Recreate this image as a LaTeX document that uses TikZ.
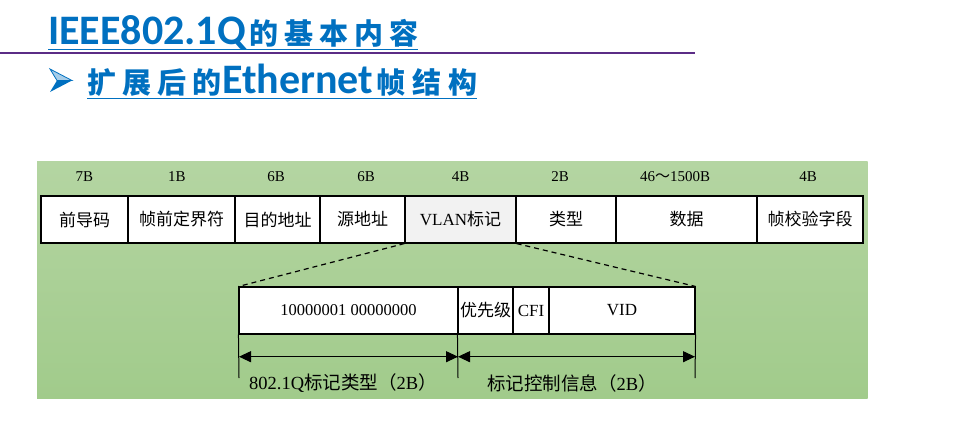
\documentclass[tikz,border=0pt]{standalone}
\usepackage{fontspec}
\setmainfont{Liberation Serif}
\newfontfamily\cjk{Noto Sans CJK SC}
\newfontfamily\carl{Carlito}
\usetikzlibrary{arrows.meta}
\definecolor{titleblue}{HTML}{0070C0}
\definecolor{rulepurple}{HTML}{5B2C86}
\definecolor{gtop}{HTML}{B4D5A2}
\definecolor{gbot}{HTML}{A1CB8B}
\definecolor{vlanfill}{HTML}{F2F2F2}
\newcommand{\boxfnt}{\fontsize{17}{20}\selectfont}
\newcommand{\lblfnt}{\fontsize{15}{18}\selectfont}
\newcommand{\botfnt}{\fontsize{18.5}{22}\selectfont}
\tikzset{
  fbox/.style={draw=black, line width=1.1pt, fill=white, inner sep=0pt,
    minimum height=47pt, font=\boxfnt, anchor=center},
  szlbl/.style={inner sep=0pt, font=\lblfnt, anchor=center},
  botlbl/.style={inner sep=0pt, font=\botfnt, anchor=center},
  ttl/.style={inner sep=0pt, anchor=base west, text=titleblue},
  uline/.style={draw=titleblue, line width=0.9pt},
  extline/.style={draw=black, line width=1pt},
  dimarrow/.style={draw=black, line width=1.1pt, {Triangle[length=12pt,width=11pt]}-{Triangle[length=12pt,width=11pt]}},
}
\begin{document}
\begin{tikzpicture}[x=1pt,y=-1pt]
\useasboundingbox (0,0) rectangle (955,444);

% title
\node[ttl] (t1) at (48,45) {{\carl\bfseries\fontsize{42}{48}\selectfont IEEE802.1Q}\hspace{3pt}{\cjk\bfseries\fontsize{29}{34}\selectfont 的\hspace{6pt}基\hspace{6pt}本\hspace{6pt}内\hspace{6pt}容}};
\draw[uline] ([yshift=-4pt]t1.base west) -- ([yshift=-4pt]t1.base east);
\coordinate (p1) at (0,52.7);
\coordinate (p2) at (695,52.7);
\draw[draw=rulepurple, line width=2.2pt] (p1) -- (p2);

% second line with arrow bullet
\fill[titleblue] (50,92) -- (72,80.5) -- (57,80.5) -- cycle;
\filldraw[fill=titleblue!35, draw=titleblue, line width=0.8pt] (50,69) -- (72,80.5) -- (57,80.5) -- cycle;
\node[ttl] (t2) at (87,93) {{\cjk\bfseries\fontsize{29}{34}\selectfont 扩\hspace{6pt}展\hspace{6pt}后\hspace{6pt}的}\hspace{1pt}{\carl\bfseries\fontsize{42}{48}\selectfont Ethernet}\hspace{3pt}{\cjk\bfseries\fontsize{29}{34}\selectfont 帧\hspace{7pt}结\hspace{7pt}构}};
\draw[uline] ([yshift=-5pt]t2.base west) -- ([yshift=-5pt]t2.base east);

% green background
\shade[top color=gtop, bottom color=gbot] (37,161.5) rectangle (867.5,398.5);

% frame row
\node[fbox, minimum width=87pt]  (b1) at (84.5,219.5) {{\cjk 前导码}};
\node[fbox, minimum width=107pt] (b2) at (181.5,219.5) {{\cjk 帧前定界符}};
\node[fbox, minimum width=85pt]  (b3) at (277.5,219.5) {{\cjk 目的地址}};
\node[fbox, minimum width=85pt]  (b4) at (362.5,219.5) {{\cjk 源地址}};
\node[fbox, minimum width=111pt, fill=vlanfill] (b5) at (460.5,219.5) {VLAN{\cjk 标记}};
\node[fbox, minimum width=100pt] (b6) at (566,219.5) {{\cjk 类型}};
\node[fbox, minimum width=141pt] (b7) at (686.5,219.5) {{\cjk 数据}};
\node[fbox, minimum width=106pt] (b8) at (810,219.5) {{\cjk 帧校验字段}};

% size labels
\node[szlbl] (s1) at (84.5,177) {7B};
\node[szlbl] (s2) at (177,177) {1B};
\node[szlbl] (s3) at (276,177) {6B};
\node[szlbl] (s4) at (366,177) {6B};
\node[szlbl] (s5) at (460.5,177) {4B};
\node[szlbl] (s6) at (560,177) {2B};
\node[szlbl] (s7) at (675,177) {46{\cjk ～}1500B};
\node[szlbl] (s8) at (808,177) {4B};

% tag row
\node[fbox, minimum width=219pt] (c1) at (348.5,310.5) {\fontsize{16.5}{20}\selectfont 10000001 00000000};
\node[fbox, minimum width=55pt]  (c2) at (485.5,310.5) {{\cjk 优先级}};
\node[fbox, minimum width=36pt]  (c3) at (531,310.5) {CFI};
\node[fbox, minimum width=146pt] (c4) at (622,310.5) {VID};

% dashed expansion lines
\draw[line width=1.2pt, dash pattern=on 5pt off 4pt] (b5.south west) -- (c1.north west);
\draw[line width=1.2pt, dash pattern=on 5pt off 4pt] (b5.south east) -- (c4.north east);

% extension lines
\coordinate (e1) at (239,378);
\coordinate (e2) at (458,378);
\coordinate (e3) at (695,378);
\draw[extline] (c1.south west) -- (e1);
\draw[extline] (c2.south west) -- (e2);
\draw[extline] (c4.south east) -- (e3);

% dimension arrows
\coordinate (a1) at (239,356.7);
\coordinate (a2) at (458,356.7);
\coordinate (a3) at (695,356.7);
\draw[dimarrow] (a1) -- (a2);
\draw[dimarrow] (a2) -- (a3);

% bottom labels
\node[botlbl] (l1) at (343,383) {802.1Q{\cjk 标记类型（}2B{\cjk ）}};
\node[botlbl] (l2) at (572,383) {{\cjk 标记控制信息（}2B{\cjk ）}};
\end{tikzpicture}
\end{document}
